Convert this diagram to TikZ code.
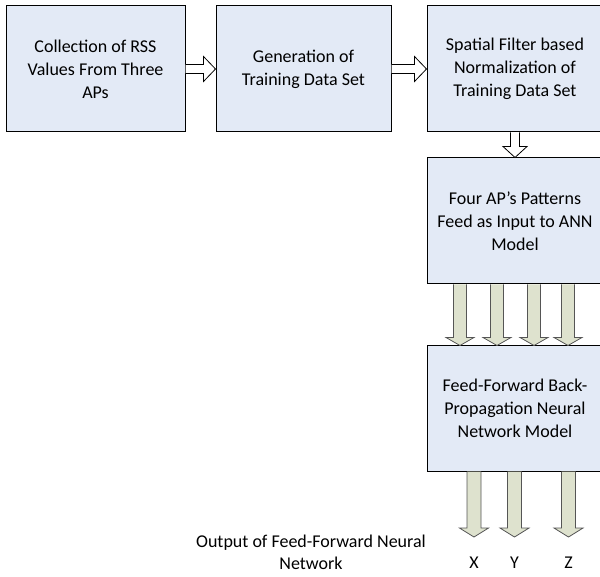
\documentclass[tikz,border=0pt]{standalone}
\usepackage{fontspec}
\setmainfont{Carlito}
\usetikzlibrary{calc}

\definecolor{boxblue}{RGB}{227,234,246}
\definecolor{feedgreen}{RGB}{222,226,206}
\definecolor{feededge}{RGB}{85,85,85}

% block arrow: style, from, to, shaft half width, head half width, head length
\newcommand{\blockarrow}[6]{%
  \coordinate (ba-s) at #2;
  \coordinate (ba-e) at #3;
  \coordinate (ba-h) at ($(ba-e)!#6pt!(ba-s)$);
  \filldraw[#1] ($(ba-s)!#4pt!90:(ba-e)$) -- ($(ba-h)!#4pt!90:(ba-e)$)
    -- ($(ba-h)!#5pt!90:(ba-e)$) -- (ba-e) -- ($(ba-h)!#5pt!-90:(ba-e)$)
    -- ($(ba-h)!#4pt!-90:(ba-e)$) -- ($(ba-s)!#4pt!-90:(ba-e)$);
}

\begin{document}
\begin{tikzpicture}[x=1pt,y=-1pt,
  stage/.style={draw=black, line width=1pt, fill=boxblue, minimum height=126pt,
    align=center, font=\fontsize{18}{23}\selectfont},
  hollow/.style={draw=black, line width=0.8pt, fill=white},
  feed/.style={draw=feededge, line width=0.8pt, fill=feedgreen},
  outlabel/.style={inner sep=2pt, align=center, font=\fontsize{18}{22}\selectfont}]

  \useasboundingbox (0,0) rectangle (600,577);

  % Top row of stages
  \node[stage, minimum width=179pt] (collect) at (95.5,69) {Collection of RSS\\Values From Three\\APs};
  \node[stage, minimum width=175pt] (generate) at (303.5,69) {Generation of\\Training Data Set};
  \node[stage, minimum width=176pt] (normalize) at (515,69) {Spatial Filter based\\Normalization of\\Training Data Set};

  % Right column
  \node[stage, minimum width=176pt] (input) at (515,221) {Four AP's Patterns\\Feed as Input to ANN\\Model};
  \node[stage, minimum width=176pt, minimum height=125pt] (model) at (515,408.5) {Feed-Forward Back-\\Propagation Neural\\Network Model};

  % Outputs
  \node[outlabel] (outx) at (474,563) {X};
  \node[outlabel] (outy) at (514.5,563) {Y};
  \node[outlabel] (outz) at (568.5,563) {Z};
  \node[outlabel] (outtext) at (311,552) {Output of Feed-Forward Neural\\Network};

  % Hollow arrows between stages
  \blockarrow{hollow}{(collect.east)}{(generate.west)}{4.5}{12.5}{12}
  \blockarrow{hollow}{(generate.east)}{(normalize.west)}{4.5}{12.5}{12}
  \blockarrow{hollow}{(normalize.south)}{(input.north)}{4.5}{12}{11}

  % Four inputs into the network
  \foreach \dx in {-55,-18,19,53}{
    \blockarrow{feed}{($(input.south)+(\dx,0)$)}{($(model.north)+(\dx,0)$)}{6.5}{14}{8}
  }

  % Network outputs
  \blockarrow{feed}{($(model.south)+(-41,0)$)}{([yshift=18pt]outx.north)}{7}{14.5}{9}
  \blockarrow{feed}{($(model.south)+(-0.5,0)$)}{([yshift=18pt]outy.north)}{7}{14.5}{9}
  \blockarrow{feed}{($(model.south)+(53.5,0)$)}{([yshift=18pt]outz.north)}{7}{14.5}{9}
\end{tikzpicture}
\end{document}
